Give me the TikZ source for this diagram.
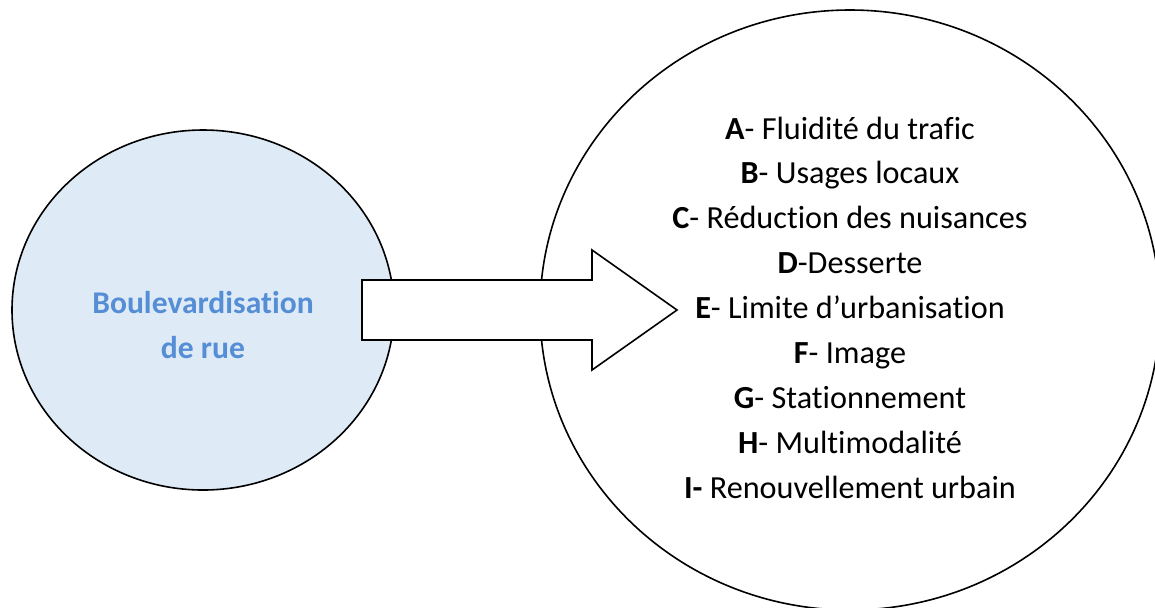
\documentclass[tikz,border=0pt]{standalone}
\usepackage{fontspec}
\setmainfont[Ligatures=NoCommon]{Carlito}
\usetikzlibrary{positioning}
\definecolor{ruefill}{RGB}{222,235,247}
\definecolor{rueblue}{RGB}{85,142,213}

\begin{document}
\begin{tikzpicture}[x=0.5pt,y=-0.5pt,line width=0.8pt,
    titre/.style={rueblue,font=\bfseries\fontsize{15.8}{18}\selectfont,anchor=base},
    item/.style={font=\fontsize{16.1}{19}\selectfont,anchor=base}]
  \useasboundingbox (0,0) rectangle (1155,607);
  \clip (0,0) rectangle (1155,607);
  % the two bubbles
  \draw[fill=ruefill] (203,310) ellipse [x radius=191, y radius=180];
  \draw (850,310) ellipse [x radius=310, y radius=300];
  % block arrow
  \draw[fill=white] (362,280) -- (592,280) -- (592,250) -- (677,310)
    -- (592,370) -- (592,340) -- (362,340) -- cycle;
  \node[titre] (boul) at (203,313) {Boulevardisation};
  \node[titre] (rue) at ([yshift=-22.5pt]boul.base) {de rue};
  % list of effects
  \foreach \txt [count=\i] in {%
      {\textbf{A}- Fluidité du trafic},
      {\textbf{B}- Usages locaux},
      {\textbf{C}- Réduction des nuisances},
      {\textbf{D}-Desserte},
      {\textbf{E}- Limite d’urbanisation},
      {\textbf{F}- Image},
      {\textbf{G}- Stationnement},
      {\textbf{H}- Multimodalité},
      {\textbf{I-} Renouvellement urbain}}
    \node[item] (effet\i) at (850,{139+44.9*(\i-1)}) {\txt};
\end{tikzpicture}
\end{document}
